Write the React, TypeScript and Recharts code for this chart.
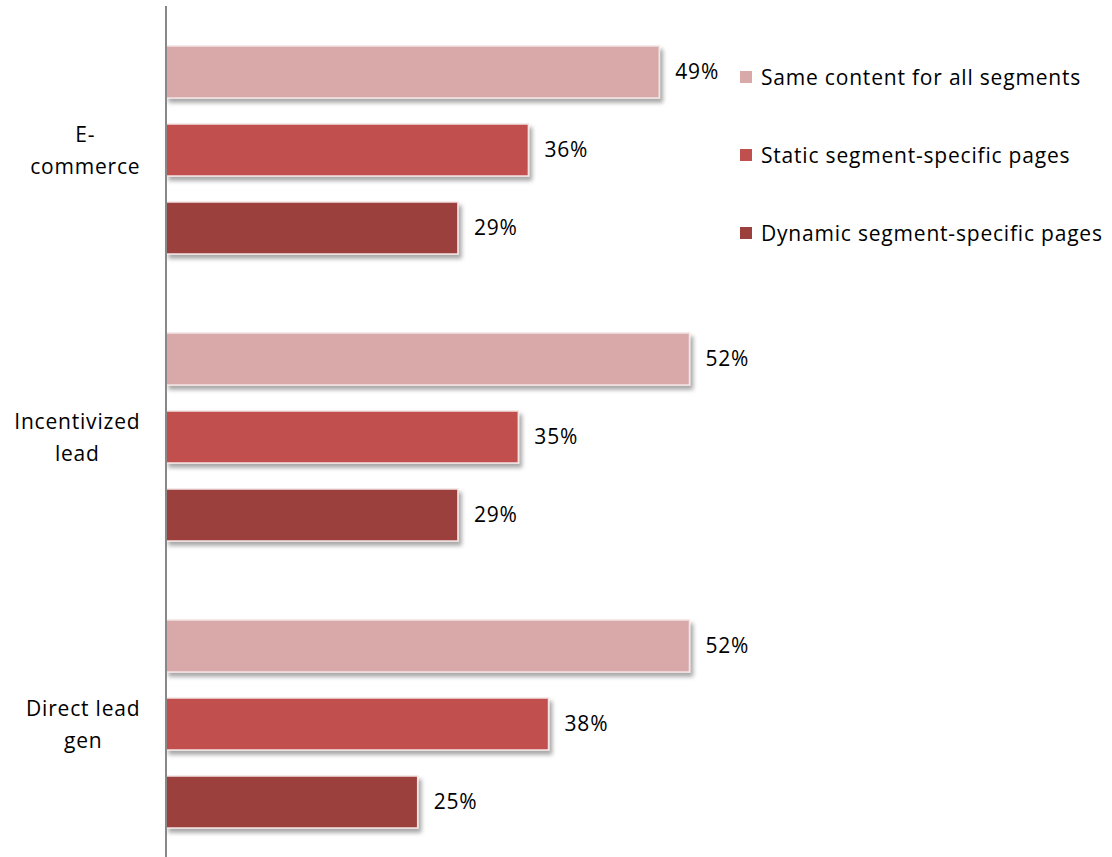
import { BarChart, Bar, XAxis, YAxis, LabelList, Legend } from "recharts";

const categories = ["E-commerce", "Incentivized lead", "Direct lead gen"];
const tickLines = [["E-", "commerce"], ["Incentivized", "lead"], ["Direct lead", "gen"]];
const sameContent = [49, 52, 52];
const staticPages = [36, 35, 38];
const dynamicPages = [29, 29, 25];

const seriesNames = [
  "Same content for all segments",
  "Static segment-specific pages",
  "Dynamic segment-specific pages",
];
const colors = ["#d9a9a9", "#c0504d", "#9c403d"];

const data = categories.map((name, i) => ({
  name,
  same: sameContent[i],
  stat: staticPages[i],
  dyn: dynamicPages[i],
}));

const FONT = "'Open Sans', sans-serif";
const FS = 21;
const LS = 0.8;

let ctx: CanvasRenderingContext2D | null = null;
const measure = (s: string) => {
  if (!ctx) ctx = document.createElement("canvas").getContext("2d");
  if (!ctx) return s.length * 11;
  ctx.font = `${FS}px 'Open Sans'`;
  return ctx.measureText(s).width + (s.length - 1) * LS;
};

const CategoryTick = (props: any) => {
  const { y, payload, index } = props;
  const lines = tickLines[index] ?? [payload.value];
  const maxW = Math.max(...lines.map(measure));
  const cx = 140 - maxW / 2;
  return (
    <g>
      {lines.map((l: string, k: number) => (
        <text
          key={k}
          x={cx}
          y={y - 8 + k * 32}
          textAnchor="middle"
          fontFamily={FONT}
          fontSize={FS}
          letterSpacing={LS}
          fill="#000"
        >
          {l}
        </text>
      ))}
    </g>
  );
};

const ShadowBar = (props: any) => {
  const { x, y, width, height, fill } = props;
  if (!width || width <= 0) return null;
  return (
    <rect
      x={x}
      y={y}
      width={width}
      height={height}
      fill={fill}
      stroke="#f4e4e4"
      strokeWidth={1.5}
      filter="url(#barShadow)"
    />
  );
};

const LegendBox = () => (
  <div style={{ fontFamily: FONT, fontSize: FS, letterSpacing: LS, color: "#000" }}>
    {seriesNames.map((n, i) => (
      <div key={n} style={{ display: "flex", alignItems: "center", height: 78 }}>
        <span
          style={{
            display: "inline-block",
            width: 12,
            height: 12,
            background: colors[i],
            marginRight: 9,
          }}
        />
        <span>{n}</span>
      </div>
    ))}
  </div>
);

const App = () => {
  return (
    <div
      style={{
        position: "absolute",
        left: 0,
        top: 0,
        width: 1112,
        height: 857,
        overflow: "hidden",
        background: "#fff",
      }}
    >
      <BarChart
        width={1112}
        height={870}
        data={data}
        layout="vertical"
        margin={{ top: 6, right: 342, bottom: 3, left: 0 }}
        barSize={52}
        barGap={26}
      >
        <defs>
          <filter id="barShadow" x="-10%" y="-30%" width="130%" height="180%">
            <feDropShadow dx={3} dy={4} stdDeviation={2} floodColor="#000" floodOpacity={0.35} />
          </filter>
        </defs>
        <XAxis type="number" domain={[0, 60]} hide />
        <YAxis
          type="category"
          dataKey="name"
          width={166}
          tickLine={false}
          axisLine={{ stroke: "#888", strokeWidth: 2 }}
          tick={<CategoryTick />}
          interval={0}
        />
        <Legend
          layout="horizontal"
          verticalAlign="middle"
          align="center"
          content={<LegendBox />}
          wrapperStyle={{ left: 740, top: 38, width: 380, height: "auto" }}
        />
        {(["same", "stat", "dyn"] as const).map((key, i) => (
          <Bar
            key={key}
            dataKey={key}
            name={seriesNames[i]}
            fill={colors[i]}
            shape={<ShadowBar />}
            isAnimationActive={false}
          >
            <LabelList
              dataKey={key}
              position="right"
              offset={16}
              formatter={(v: any) => `${v}%`}
              fill="#000"
              fontFamily={FONT}
              fontSize={FS}
              letterSpacing={LS}
            />
          </Bar>
        ))}
      </BarChart>
    </div>
  );
};

export default App;
